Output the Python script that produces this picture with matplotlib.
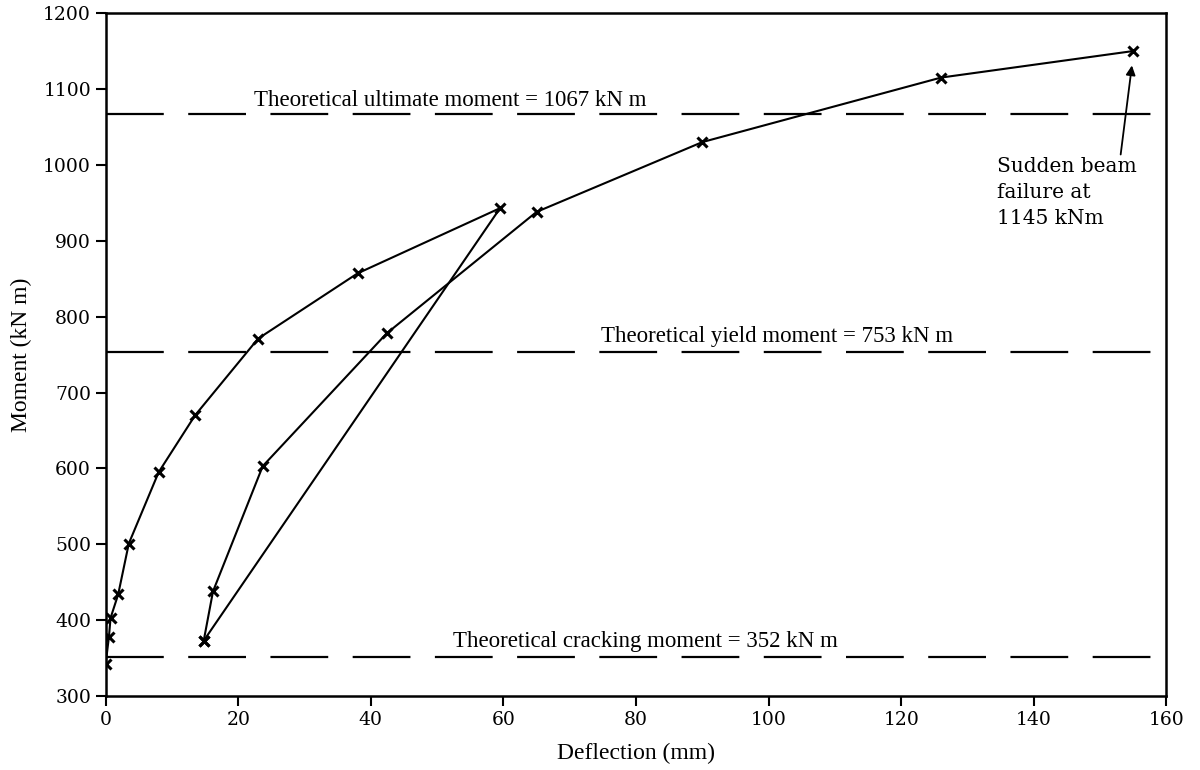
import matplotlib
matplotlib.use("Agg")
import matplotlib.pyplot as plt

# loading path up to the first peak, then straight unloading
load1_defl = [0, 0.5, 0.75, 1.9, 3.5, 8, 13.5, 23, 38, 59.5, 14.8]
load1_moment = [342, 378, 403, 434, 501, 595, 670, 771, 857, 943, 373]

# reloading path up to failure
load2_defl = [14.8, 16.2, 23.7, 42.4, 65, 90, 126, 155]
load2_moment = [373, 438, 603, 778, 938, 1030, 1115, 1150]

theory_values = [1067, 753, 352]
theory_labels = ["Theoretical ultimate moment = 1067 kN m",
                 "Theoretical yield moment = 753 kN m",
                 "Theoretical cracking moment = 352 kN m"]
label_x = [52, 101.3, 81.4]
label_y = [1085, 774, 372]

x_ticks = [0, 20, 40, 60, 80, 100, 120, 140, 160]
y_ticks = [300, 400, 500, 600, 700, 800, 900, 1000, 1100, 1200]

serif = "Liberation Serif"

fig = plt.figure(figsize=(12, 7.7), dpi=100)
ax = fig.add_axes([0.088, 0.096, 0.884, 0.887])

# theoretical moment lines
for v in theory_values:
    ax.plot([0, 160], [v, v], color="black", lw=1.6, ls=(0, (26, 11)))
for t, tx, ty in zip(theory_labels, label_x, label_y):
    ax.text(tx, ty, t, ha="center", va="center", family=serif, fontsize=16.5)

mk = dict(color="black", lw=1.5, marker="x", ms=7, mew=2.2)
ax.plot(load1_defl, load1_moment, **mk)
ax.plot(load2_defl, load2_moment, **mk)

# failure note
ax.annotate("Sudden beam\nfailure at\n1145 kNm", xy=(154.8, 1131), xytext=(134.5, 1010),
            ha="left", va="top", family="DejaVu Serif", fontsize=14.5, linespacing=1.45,
            arrowprops=dict(arrowstyle="-|>", color="black", lw=1.3,
                            mutation_scale=14, shrinkA=0, shrinkB=0,
                            relpos=(0.88, 1.0)))

ax.set_xlim(0, 160)
ax.set_ylim(300, 1200)
ax.set_xticks(x_ticks)
ax.set_yticks(y_ticks)
ax.tick_params(direction="out", length=7, width=1.5, labelsize=13.5)
for lab in ax.get_xticklabels() + ax.get_yticklabels():
    lab.set_family("DejaVu Serif")
for s in ax.spines.values():
    s.set_linewidth(1.8)

ax.set_xlabel("Deflection (mm)", family=serif, fontsize=17, labelpad=10)
ax.set_ylabel("Moment (kN m)", family=serif, fontsize=17, labelpad=8)

fig.savefig("out.png", dpi=100)
